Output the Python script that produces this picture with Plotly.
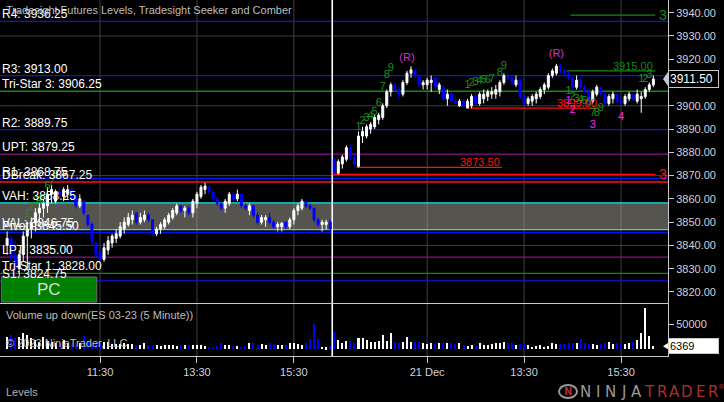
import plotly.graph_objects as go

# ---------------- ES 03-23, 5-minute bars, two RTH sessions ----------------
SESSIONS = ["20 Dec", "21 Dec"]
SESSION_BARS = [81, 80]          # bars stamped 09:35 .. 16:15 (second session still open)
TIME_TICKS = ["11:30", "13:30", "15:30"]

OPEN = [3840, 3843, 3836, 3830, 3836, 3844, 3847, 3850, 3854, 3856,
        3857, 3862, 3859, 3863, 3861, 3862, 3864, 3861, 3857, 3859,
        3853, 3849, 3841, 3837, 3834, 3838, 3841, 3843, 3844, 3847,
        3849, 3851, 3854, 3850, 3851, 3853, 3851, 3845, 3847, 3848,
        3850, 3852, 3854, 3857, 3855, 3856, 3854, 3858, 3861, 3864,
        3865, 3863, 3860, 3858, 3856, 3858, 3862, 3860, 3862, 3857,
        3855, 3857, 3853, 3850, 3851, 3852, 3850, 3848, 3848, 3850,
        3848, 3851, 3855, 3856, 3859, 3857, 3856, 3851, 3849, 3849,
        3850,
        3877, 3871, 3875, 3877, 3882, 3878, 3874, 3887, 3887, 3890,
        3891, 3894, 3895, 3900, 3906, 3909, 3907, 3905, 3910, 3914,
        3915, 3913, 3909, 3909, 3910, 3912, 3907, 3908, 3903, 3905,
        3902, 3900, 3902, 3899, 3900, 3904, 3901, 3903, 3904, 3905,
        3905, 3906, 3910, 3913, 3912, 3909, 3911, 3904, 3901, 3902,
        3903, 3904, 3907, 3908, 3913, 3914, 3917, 3915, 3914, 3912,
        3908, 3911, 3908, 3906, 3902, 3905, 3908, 3905, 3901, 3903,
        3905, 3902, 3901, 3903, 3905, 3902, 3903, 3904, 3907, 3909]
HIGH = [3846, 3844, 3842, 3838, 3846, 3850, 3852, 3856, 3858, 3860,
        3865, 3866, 3864, 3865, 3865, 3866, 3865, 3862, 3862, 3859,
        3853, 3850, 3842, 3839, 3841, 3844, 3845, 3847, 3850, 3852,
        3854, 3855, 3854, 3854, 3855, 3854, 3851, 3848, 3850, 3852,
        3854, 3856, 3858, 3857, 3857, 3857, 3860, 3863, 3866, 3867,
        3866, 3863.5, 3861, 3859, 3860, 3863, 3863, 3864, 3862, 3858,
        3858, 3857, 3854, 3853, 3853, 3854, 3851, 3850, 3850, 3850,
        3852, 3856, 3858, 3860, 3859, 3858, 3856, 3852, 3851, 3851,
        3851,
        3878, 3877, 3879, 3883, 3883, 3879, 3889, 3891, 3892, 3893,
        3896, 3897, 3901, 3907, 3910, 3910, 3908, 3911, 3915, 3917,
        3916, 3913.5, 3911, 3912, 3913, 3912, 3910, 3909, 3907, 3906,
        3904, 3903, 3903, 3903, 3905, 3906, 3906, 3907, 3907, 3908,
        3909, 3911, 3914, 3914, 3913, 3913, 3912, 3905, 3904, 3905,
        3906, 3908, 3910, 3914, 3916, 3918, 3918, 3916, 3915, 3913,
        3913, 3912, 3909, 3907, 3907, 3909, 3908, 3906, 3905, 3906,
        3905, 3904, 3905, 3906, 3905, 3907, 3906, 3908, 3910, 3913]
LOW = [3836, 3833, 3826, 3824, 3833, 3830, 3843, 3846, 3850, 3852,
       3854, 3858, 3858, 3860, 3859, 3860, 3859, 3856, 3856, 3853,
       3848, 3840, 3835, 3833, 3833, 3836, 3839, 3841, 3843, 3845,
       3848, 3849, 3849, 3849, 3850, 3850, 3844, 3844, 3845, 3847,
       3849, 3851, 3853, 3854, 3852, 3853, 3852, 3856, 3860, 3862,
       3862, 3859, 3857, 3855, 3854, 3857, 3859, 3859, 3856, 3855,
       3853, 3852, 3849, 3849, 3848, 3849, 3847, 3846, 3846, 3847,
       3847, 3849, 3853, 3855, 3856, 3855, 3850, 3848, 3846, 3847,
       3846,
       3870.5, 3870.5, 3873, 3876, 3877, 3874, 3873.5, 3884, 3886, 3888,
       3890, 3892, 3894, 3899, 3904, 3906, 3903, 3904, 3909, 3912,
       3912, 3908, 3907, 3907, 3906, 3907, 3905, 3902, 3900, 3901,
       3900, 3899.5, 3899.5, 3899.5, 3899, 3900, 3900, 3901, 3902, 3903,
       3903, 3904, 3909, 3911, 3909, 3908, 3903, 3900, 3900, 3900,
       3901, 3903, 3905, 3907, 3912, 3913, 3914, 3913, 3911, 3907,
       3907, 3907, 3905, 3901, 3901, 3904, 3904, 3900, 3900, 3901,
       3901, 3900, 3900, 3902, 3902, 3901, 3897, 3903, 3906, 3908]
CLOSE = [3843, 3835, 3830, 3836, 3844, 3847, 3850, 3854, 3856, 3858,
         3862, 3864, 3863, 3862, 3864, 3864, 3860, 3857, 3860, 3854,
         3849, 3842, 3836, 3834, 3839, 3842, 3844, 3845, 3848, 3850,
         3852, 3853, 3850, 3852, 3853, 3851, 3845, 3847, 3849, 3851,
         3853, 3855, 3857, 3855, 3856, 3854, 3859, 3862, 3865, 3865.5,
         3863, 3860, 3858, 3856, 3859, 3862, 3860, 3862, 3857, 3856,
         3857, 3853, 3850, 3852, 3852, 3850, 3848, 3849, 3849.5, 3848,
         3851, 3855, 3857, 3859, 3857, 3856, 3851, 3849, 3850, 3850,
         3847,
         3871, 3876, 3878, 3882, 3878, 3875, 3887, 3889, 3891, 3892,
         3895, 3896, 3900, 3906, 3909, 3907, 3905, 3910, 3914, 3915.5,
         3913, 3909, 3910, 3911, 3911, 3908, 3909, 3903, 3905, 3902,
         3901, 3902, 3900, 3902, 3904, 3901, 3905, 3905, 3906, 3906,
         3907, 3910, 3913, 3912, 3910, 3911, 3904, 3901, 3903, 3904,
         3905, 3907, 3909, 3913, 3915, 3917, 3915, 3914, 3912, 3908,
         3911, 3908, 3906, 3902, 3906, 3908, 3905, 3901, 3904, 3905,
         3902, 3901, 3904, 3905, 3903, 3905, 3904, 3907, 3909, 3911.5]
VOLUME = [25300, 28700, 22000, 25300, 32000, 28700, 22000, 18700, 15300, 25300,
          17300, 15300, 13300, 13300, 18700, 13300, 12000, 12000, 12000, 26700,
          15300, 12000, 13300, 12000, 15300, 15300, 10000, 10000, 10700, 12000,
          10000, 10000, 8000, 8000, 13300, 8700, 8700, 8700, 6700, 8700,
          8700, 8700, 6700, 8000, 8700, 8700, 8700, 8700, 8700, 7300,
          5300, 5300, 6700, 12000, 8700, 8700, 7300, 7300, 4700, 6700,
          12000, 12000, 8700, 11300, 8700, 12000, 10000, 8700, 8700, 8700,
          12000, 13300, 10700, 8700, 12000, 20000, 52000, 20000, 5300, 4000,
          6000,
          35300, 18700, 13300, 16700, 17300, 12000, 23300, 22000, 18700, 15300,
          15300, 17300, 28700, 16700, 32000, 15300, 13300, 15300, 24000, 15300,
          15300, 15300, 13300, 10000, 13300, 10000, 13300, 13300, 12000, 12000,
          10000, 12000, 8700, 6700, 8000, 6700, 12000, 8700, 8700, 10000,
          12000, 13300, 15300, 12000, 12000, 8700, 10000, 12000, 8000, 5300,
          6700, 8000, 5300, 7300, 12000, 10000, 10000, 10700, 12000, 13300,
          12000, 20000, 12000, 10000, 10700, 8700, 10000, 12000, 15300, 10000,
          12000, 13300, 10000, 13300, 15300, 18700, 32000, 84000, 26700, 6369]

# ---------------- Tradesight futures levels ----------------
LEVEL_NAMES = ["R4", "R3", "Tri-Star 3", "R2", "UPT", "R1", "DBreak", "VAH",
               "VAL", "Pivot", "LPT", "Tri-Star 1", "S1"]
LEVEL_VALUES = [3936.25, 3913.00, 3906.25, 3889.75, 3879.25, 3868.75, 3867.25,
                3858.25, 3846.75, 3845.50, 3835.00, 3828.00, 3824.75]
LEVEL_COLORS = ["#1010ee", "#1010ee", "#128a12", "#1010ee", "#8a108a", "#1010ee",
                "#ff1010", "#10e8e8", "#10e8e8", "#1010ee", "#8a108a", "#128a12",
                "#1010ee"]
VALUE_AREA = ("VAL", "VAH")

# ---------------- Seeker / Comber targets and counts ----------------
TARGET_PRICE = [3873.50, 3899.00, 3915.00, 3870.50, 3939.00]
TARGET_FROM = [87, 115, 139, 81, 140]
TARGET_TO = [122, 146, 160, 160, 160]
TARGET_COLOR = ["#ff1010", "#ff1010", "#128a12", "#ff1010", "#128a12"]
TARGET_TEXT = ["3873.50", "3899.00", "3915.00", "3", "3"]

COUNT_BAR = [5, 6, 7, 8, 9, 10, 11, 12,
             87, 88, 89, 90, 91, 92, 93, 94, 95, 99,
             114, 115, 116, 117, 118, 119, 120, 122, 123, 136,
             139, 140, 141, 142, 143, 144, 145, 146, 147,
             139, 140, 145, 152,
             157, 158, 159]
COUNT_PRICE = [3853.5, 3856.5, 3859.0, 3859.5, 3860.0, 3865.5, 3866.5, 3870.0,
               3890.8, 3893.4, 3894.7, 3895.6, 3897.3, 3901.0, 3908.0, 3913.2, 3916.2, 3920.5,
               3909.0, 3909.8, 3910.2, 3910.5, 3910.8, 3911.0, 3911.3, 3914.1, 3917.1, 3922.3,
               3906.2, 3903.7, 3903.0, 3902.5, 3902.0, 3901.5, 3897.0, 3897.0, 3899.0,
               3902.0, 3898.2, 3891.6, 3895.0,
               3911.3, 3911.3, 3913.1]
COUNT_TEXT = ["1", "2", "3", "4", "5", "6", "7", "8",
              "1", "2", "3", "4", "5", "6", "7", "8", "9", "(R)",
              "1", "2", "3", "4", "5", "6", "7", "8", "9", "(R)",
              "1", "2", "3", "4", "5", "6", "7", "8", "9",
              "1", "2", "3", "4",
              "1", "2", "3"]
COUNT_KIND = ["setup"] * 8 + ["setup"] * 9 + ["signal"] + ["setup"] * 9 + ["signal"] \
    + ["setup"] * 9 + ["comber"] * 4 + ["setup"] * 3

PRICE_RANGE = [3815.25, 3945.46]
VOLUME_RANGE = [-13500, 93300]
PRICE_DTICK = 10
GRID_STEP = 30

BG = "#000000"
AXIS = "#c8c8c8"
TICKFONT = dict(family="Liberation Sans, Arial", size=11, color="#cfd2dc")
GRID = "#3f3f3f"
UP, DOWN = "#ffffff", "#0000ff"
KIND_COLOR = {"setup": "#1f8f1f", "signal": "#cc33cc", "comber": "#ff22ff"}

n = len(OPEN)
xs = list(range(n))

# bar time stamps and axis ticks
times, sess = [], []
for s, nb in enumerate(SESSION_BARS):
    for k in range(nb):
        m = 9 * 60 + 35 + 5 * k
        times.append(f"{m // 60:02d}:{m % 60:02d}")
        sess.append(s)
tickvals, ticktext, labelled = [], [], set()
for i, t in enumerate(times):
    if t in TIME_TICKS:
        tickvals.append(i)
        s = sess[i]
        ticktext.append(SESSIONS[s] if (s > 0 and s not in labelled) else t)
        labelled.add(s)

fig = go.Figure()

fig.add_trace(go.Candlestick(
    x=xs, open=OPEN, high=HIGH, low=LOW, close=CLOSE,
    increasing=dict(line=dict(color=UP, width=1), fillcolor=UP),
    decreasing=dict(line=dict(color=DOWN, width=1), fillcolor=DOWN),
    whiskerwidth=0, xaxis="x", yaxis="y", showlegend=False, hoverinfo="skip"))

vol_colors = [UP if c >= o else DOWN for o, c in zip(OPEN, CLOSE)]
fig.add_trace(go.Bar(x=xs, y=VOLUME, marker=dict(color=vol_colors, line=dict(width=0)),
                     width=0.5, xaxis="x2", yaxis="y2", showlegend=False, hoverinfo="skip"))

fig.add_trace(go.Scatter(
    x=COUNT_BAR, y=COUNT_PRICE, text=COUNT_TEXT, mode="text",
    textfont=dict(family="Liberation Sans, Arial", size=11,
                  color=[KIND_COLOR[k] for k in COUNT_KIND]),
    xaxis="x", yaxis="y", showlegend=False, hoverinfo="skip"))

shapes, annotations = [], []

# grid: vertical at the time ticks across both panes, horizontal every GRID_STEP points
for tv in tickvals:
    shapes.append(dict(type="line", xref="x", yref="paper", x0=tv, x1=tv, y0=0, y1=1,
                       line=dict(color=GRID, width=1), layer="below"))
g = PRICE_RANGE[0] - PRICE_RANGE[0] % GRID_STEP
while g <= PRICE_RANGE[1]:
    if g >= PRICE_RANGE[0]:
        shapes.append(dict(type="line", xref="x domain", yref="y", x0=0, x1=1, y0=g, y1=g,
                           line=dict(color=GRID, width=1), layer="below"))
    g += GRID_STEP

# value area band
lv = dict(zip(LEVEL_NAMES, LEVEL_VALUES))
shapes.append(dict(type="rect", xref="x domain", yref="y", x0=0, x1=1,
                   y0=lv[VALUE_AREA[0]], y1=lv[VALUE_AREA[1]],
                   fillcolor="rgba(172,168,156,0.5)", line=dict(width=0), layer="below"))

# level lines + names
for name, val, col in zip(LEVEL_NAMES, LEVEL_VALUES, LEVEL_COLORS):
    shapes.append(dict(type="line", xref="x domain", yref="y", x0=0, x1=1, y0=val, y1=val,
                       line=dict(color=col, width=1.3), layer="below"))
    annotations.append(dict(xref="paper", yref="y", x=0, y=val, xanchor="left", yanchor="bottom",
                            text=f"{name}: {val:.2f}", showarrow=False, yshift=-2,
                            font=dict(family="Liberation Sans, Arial", size=12, color="#ffffff")))

# seeker / comber target lines
for p, a, b, col, txt in zip(TARGET_PRICE, TARGET_FROM, TARGET_TO, TARGET_COLOR, TARGET_TEXT):
    shapes.append(dict(type="line", xref="x", yref="y", x0=a - 0.5, x1=b + 0.5, y0=p, y1=p,
                       line=dict(color=col, width=1.3), layer="below"))
    if len(txt) == 1:
        annotations.append(dict(xref="x", yref="y", x=b + 1, y=p, xanchor="left", yanchor="middle",
                                text=txt, showarrow=False,
                                font=dict(family="Liberation Sans, Arial", size=14, color=col)))
    else:
        annotations.append(dict(xref="x", yref="y", x=b + 0.5, y=p, xanchor="right", yanchor="bottom",
                                text=txt, showarrow=False, yshift=-3,
                                font=dict(family="Liberation Sans, Arial", size=11, color=col)))

# session break
shapes.append(dict(type="line", xref="x", yref="paper", x0=SESSION_BARS[0] - 0.5,
                   x1=SESSION_BARS[0] - 0.5, y0=0, y1=1,
                   line=dict(color="#ffffff", width=1.6), layer="below"))

# PC button
shapes.append(dict(type="rect", xref="x domain", yref="y domain", x0=0.002, x1=0.145, y0=0.003, y1=0.086,
                   fillcolor="#008000", line=dict(color="#6e6e6e", width=1), layer="above"))
annotations.append(dict(xref="x domain", yref="y domain", x=0.0735, y=0.045, text="PC",
                        showarrow=False, xanchor="center", yanchor="middle",
                        font=dict(family="Liberation Sans, Arial", size=17, color="#dcdcdc")))

# last price / last volume markers
last_p, last_v = CLOSE[-1], VOLUME[-1]
dp = 3.0
shapes.append(dict(type="path", xref="paper", yref="y",
                   path=f"M 1,{last_p + dp} L 0.9925,{last_p} L 1,{last_p - dp} Z",
                   fillcolor="#c8c8c8", line=dict(width=0), layer="above"))
annotations.append(dict(xref="paper", yref="y", x=1, y=last_p, xanchor="left", yanchor="middle",
                        text=f"{last_p:.2f}", showarrow=False, bgcolor="#000000",
                        bordercolor="#c8c8c8", borderwidth=1, width=47, align="left", borderpad=1,
                        font=dict(family="Liberation Sans, Arial", size=12, color="#ffffff")))
vspan = VOLUME_RANGE[1] - VOLUME_RANGE[0]
shapes.append(dict(type="path", xref="paper", yref="y2",
                   path=f"M 1,{last_v + 0.06 * vspan} L 0.9925,{last_v} L 1,{last_v - 0.06 * vspan} Z",
                   fillcolor="#ffffff", line=dict(width=0), layer="above"))
annotations.append(dict(xref="paper", yref="y2", x=1, y=last_v, xanchor="left", yanchor="middle",
                        text=f"{last_v}", showarrow=False, bgcolor="#ffffff",
                        bordercolor="#c8c8c8", borderwidth=1, width=47, align="left", borderpad=1,
                        font=dict(family="Liberation Sans, Arial", size=11, color="#000000")))

# panel captions
cap = dict(family="Liberation Sans, Arial", size=11, color="#bdbdbd")
annotations += [
    dict(xref="paper", yref="paper", x=0.006, y=1, xanchor="left", yanchor="top", yshift=-2,
         text="Tradesight Futures Levels, Tradesight Seeker and Comber", showarrow=False, font=cap),
    dict(xref="paper", yref="y2 domain", x=0.006, y=0.77, xanchor="left", yanchor="middle",
         text="Volume up down(ES 03-23 (5 Minute))", showarrow=False, font=cap),
    dict(xref="paper", yref="y2 domain", x=0.006, y=0.25, xanchor="left", yanchor="middle",
         text="© 2023 NinjaTrader, LLC", showarrow=False, font=cap),
    dict(xref="paper", yref="paper", x=0.006, y=-0.101, xanchor="left", yanchor="middle",
         text="Levels", showarrow=False, font=dict(family="Liberation Sans, Arial", size=11, color="#b0b0b0")),
]

# NinjaTrader brand mark
BRAND = "NINJATRADER"
shapes.append(dict(type="circle", xref="paper", yref="paper", x0=559 / 668, x1=577 / 668,
                   y0=-42 / 356, y1=-29 / 356, line=dict(color="#9a9a9a", width=2),
                   fillcolor="rgba(0,0,0,0)", layer="above"))
annotations.append(dict(xref="paper", yref="paper", x=568 / 668, y=-35.5 / 356, text="<b>N</b>",
                        showarrow=False, xanchor="center", yanchor="middle",
                        font=dict(family="DejaVu Sans", size=10, color="#b02a2a")))
for k, ch in enumerate(BRAND):
    annotations.append(dict(xref="paper", yref="paper", x=(585 + 12.8 * k) / 668, y=-36 / 356,
                            text=ch, showarrow=False, xanchor="center", yanchor="middle",
                            font=dict(family="DejaVu Sans", size=15,
                                      color="#9a9a9a" if k < 5 else "#a83030")))
annotations.append(dict(xref="paper", yref="paper", x=721 / 668, y=-31 / 356, text="®",
                        showarrow=False, xanchor="center", yanchor="middle",
                        font=dict(family="DejaVu Sans", size=7, color="#a83030")))

split = 53 / 356
fig.update_layout(
    width=724, height=402, margin=dict(l=0, r=56, t=0, b=46),
    paper_bgcolor=BG, plot_bgcolor=BG, showlegend=False, bargap=0,
    shapes=shapes, annotations=annotations,
    xaxis=dict(domain=[0, 1], anchor="y", range=[-1.76, 163.63], tickvals=tickvals,
               showticklabels=False, showgrid=False,
               showline=True, linecolor=AXIS, linewidth=1, ticks="", zeroline=False,
               rangeslider=dict(visible=False)),
    xaxis2=dict(domain=[0, 1], anchor="y2", matches="x", tickvals=tickvals, ticktext=ticktext,
                showgrid=False, showline=True, linecolor=AXIS,
                ticks="outside", ticklen=6, tickcolor=AXIS, tickfont=TICKFONT, zeroline=False),
    yaxis=dict(domain=[split, 1], anchor="x", side="right", range=PRICE_RANGE,
               tick0=3820, dtick=PRICE_DTICK, tickformat=".2f", showgrid=False, zeroline=False,
               showline=True, linecolor=AXIS, ticks="outside", ticklen=5, tickcolor=AXIS,
               tickfont=TICKFONT),
    yaxis2=dict(domain=[0, split], anchor="x2", side="right", range=VOLUME_RANGE,
                tickvals=[50000], ticktext=["50000"], showgrid=False, zeroline=False,
                showline=True, linecolor=AXIS, ticks="outside", ticklen=5, tickcolor=AXIS,
                tickfont=TICKFONT),
)

fig.write_html("out.html")
